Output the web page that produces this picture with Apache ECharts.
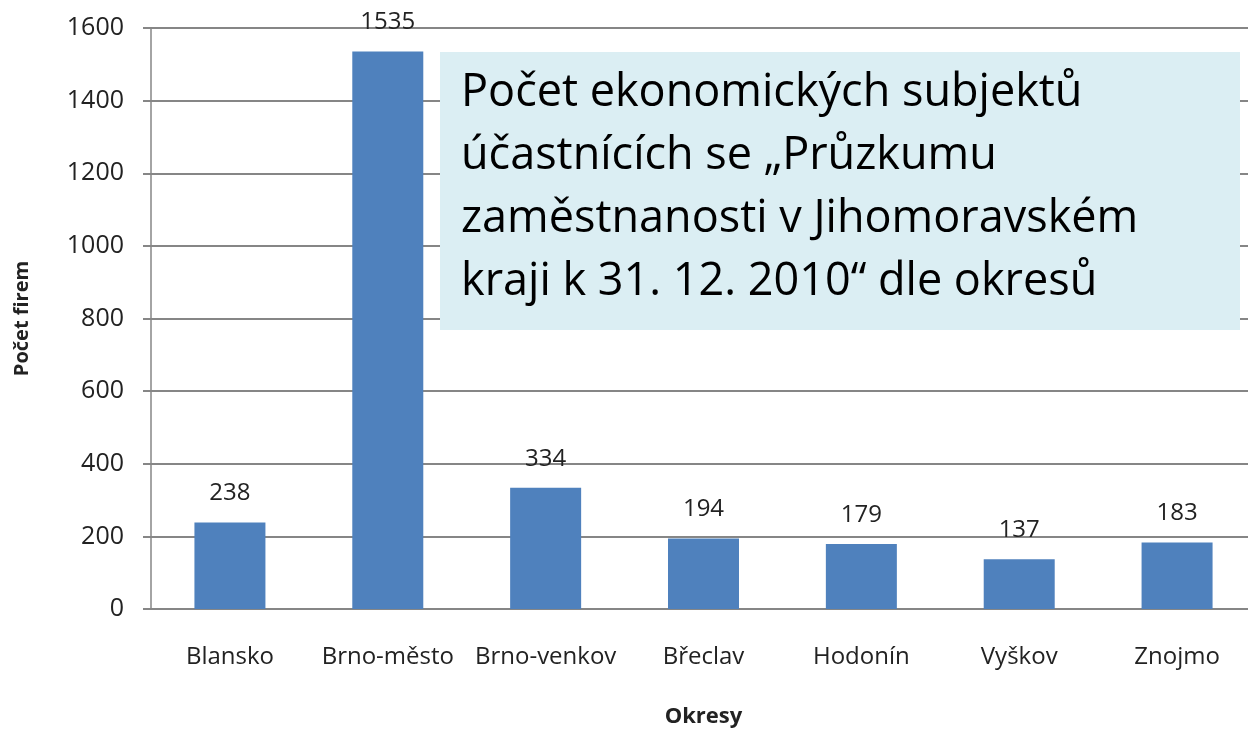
<!DOCTYPE html>
<html>
<head>
<meta charset="utf-8">
<script src="https://cdn.jsdelivr.net/npm/echarts@6/dist/echarts.min.js"></script>
<style>
  html, body { margin: 0; padding: 0; background: #fff; overflow: hidden; }
  /* plot area runs past the right edge in the original, so the canvas is a bit wider than the window */
  #chart { width: 1260px; height: 730px; }
</style>
</head>
<body>
<div id="chart"></div>
<script>
const districts = ['Blansko', 'Brno-město', 'Brno-venkov', 'Břeclav', 'Hodonín', 'Vyškov', 'Znojmo']
const firms = [238, 1535, 334, 194, 179, 137, 183]
const titleLines = [
  'Počet ekonomických subjektů',
  'účastnících se „Průzkumu',
  'zaměstnanosti v Jihomoravském',
  'kraji k 31. 12. 2010“ dle okresů'
]

const font = '"Open Sans", "Noto Sans", sans-serif'
const myChart = echarts.init(document.getElementById('chart'))

myChart.setOption({
  animation: false,
  grid: {
    left: 151,
    top: 28,
    right: 4,
    height: 581,
    outerBoundsMode: 'none',
  },
  xAxis: {
    type: 'category',
    data: districts,
    name: 'Okresy',
    nameLocation: 'middle',
    nameGap: 97,
    nameTextStyle: { fontFamily: font, fontSize: 22, fontWeight: 'bold', color: '#222' },
    axisLine: { lineStyle: { color: '#868686', width: 2 } },
    axisTick: { show: false },
    axisLabel: { fontFamily: font, fontSize: 24, color: '#222', margin: 36, interval: 0 },
  },
  yAxis: {
    type: 'value',
    min: 0,
    max: 1600,
    interval: 200,
    name: 'Počet firem',
    nameLocation: 'middle',
    nameGap: 119,
    nameTextStyle: { fontFamily: font, fontSize: 20, fontWeight: 'bold', color: '#222' },
    axisLine: { show: true, lineStyle: { color: '#868686', width: 1.5 } },
    axisTick: { show: true, length: 8, lineStyle: { color: '#868686', width: 2 } },
    splitLine: { lineStyle: { color: '#868686', width: 2 } },
    axisLabel: {
      fontFamily: font,
      fontSize: 25,
      color: '#222',
      margin: 27,
      formatter: (v) => String(v),
    },
  },
  series: [
    {
      type: 'bar',
      data: firms,
      barWidth: 71,
      itemStyle: { color: '#4F81BD' },
      label: {
        show: true,
        position: 'top',
        distance: 17,
        fontFamily: font,
        fontSize: 24,
        color: '#222',
      },
    },
  ],
  graphic: [
    {
      type: 'rect',
      left: 440,
      top: 52,
      shape: { width: 800, height: 278 },
      style: { fill: '#DBEEF3' },
      z: 100,
    },
    {
      type: 'text',
      left: 461,
      top: 62,
      style: {
        text: titleLines.join('\n'),
        fontFamily: font,
        fontSize: 45,
        lineHeight: 63,
        fill: '#000',
      },
      z: 101,
    },
  ],
})
</script>
</body>
</html>
